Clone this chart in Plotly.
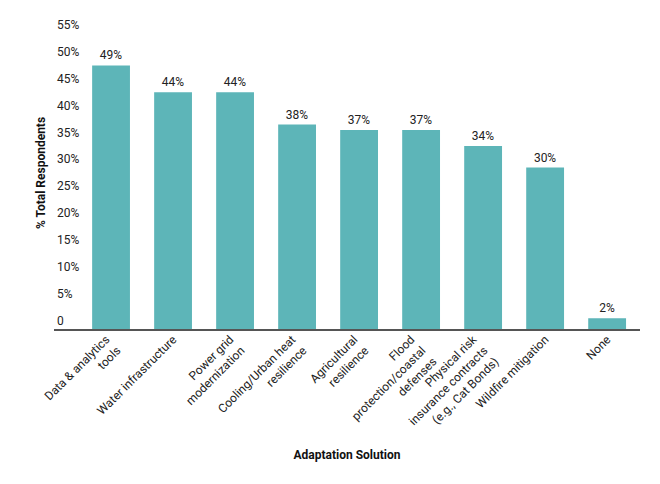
import plotly.graph_objects as go

categories = [
    "Data & analytics<br>tools",
    "Water infrastructure",
    "Power grid<br>modernization",
    "Cooling/Urban heat<br>resilience",
    "Agricultural<br>resilience",
    "Flood<br>protection/coastal<br>defenses",
    "Physical risk<br>insurance contracts<br>(e.g., Cat Bonds)",
    "Wildfire mitigation",
    "None",
]
values = [49, 44, 44, 38, 37, 37, 34, 30, 2]
bar_labels = [f"{v}%" for v in values]
y_tickvals = [0, 5, 10, 15, 20, 25, 30, 35, 40, 45, 50, 55]
y_ticktext = ["0", "5%", "10%", "15%", "20%", "25%", "30%", "35%", "40%", "45%", "50%", "55%"]

x_pos = list(range(len(categories)))
# multi-line labels sit slightly left of their bar (about 5px per extra line, 62px per category)
label_pos = [i - (c.count("<br>")) * 5 / 62 for i, c in zip(x_pos, categories)]

fig = go.Figure(
    go.Bar(
        x=x_pos,
        y=values,
        width=0.61,
        marker=dict(color="#5db5b8", line=dict(width=0)),
        text=bar_labels,
        textposition="outside",
        textfont=dict(family="Roboto", size=12, color="#222222"),
        cliponaxis=False,
    )
)

fig.update_layout(
    width=660,
    height=484,
    margin=dict(l=46, r=28, t=9, b=163),
    paper_bgcolor="white",
    plot_bgcolor="white",
    font=dict(family="Roboto", size=12, color="#222222"),
    showlegend=False,
    xaxis=dict(
        tickmode="array",
        tickvals=label_pos,
        ticktext=categories,
        tickangle=-45,
        tickfont=dict(family="Roboto", size=12, color="#222222"),
        ticklabelstandoff=-3,
        range=[-0.92, 8.53],
        showline=True,
        linecolor="#555555",
        linewidth=1.5,
        ticks="",
        showgrid=False,
        zeroline=False,
        automargin=False,
        title=dict(text="<b>Adaptation Solution</b>", font=dict(size=12, color="#111111"), standoff=12),
    ),
    yaxis=dict(
        range=[0, 58],
        tickmode="array",
        tickvals=y_tickvals,
        ticktext=y_ticktext,
        ticklabelposition="inside top",
        tickfont=dict(family="Roboto", size=12, color="#222222"),
        showgrid=False,
        zeroline=False,
        showline=False,
        ticks="",
        automargin=False,
        title=dict(text="<b>% Total Respondents</b>", font=dict(size=12, color="#111111"), standoff=8),
    ),
)

fig.write_html("out.html")
